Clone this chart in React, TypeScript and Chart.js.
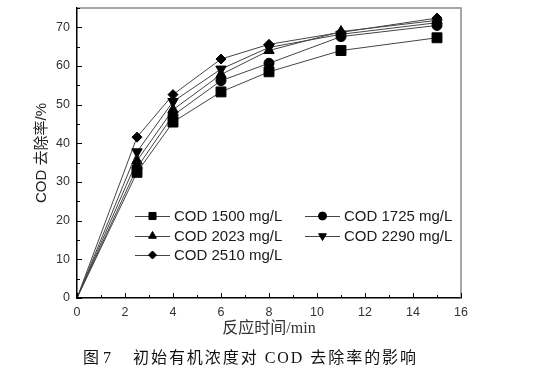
import React, { useEffect, useRef } from 'react';
import { Chart, registerables } from 'chart.js';
import { drawPoint } from 'chart.js/helpers';

Chart.register(...registerables);

const times = [0, 2.5, 4, 6, 8, 11, 15];
const seriesLabels = ['COD 1500 mg/L', 'COD 1725 mg/L', 'COD 2023 mg/L', 'COD 2290 mg/L', 'COD 2510 mg/L'];
const cod1500 = [0, 32.5, 45.5, 53.3, 58.5, 64.0, 67.3];
const cod1725 = [0, 33.7, 47.2, 56.2, 60.7, 67.6, 70.5];
const cod2023 = [0, 35.5, 48.7, 57.8, 64.0, 68.9, 71.8];
const cod2290 = [0, 37.8, 50.8, 59.2, 64.8, 68.2, 71.2];
const cod2510 = [0, 41.6, 52.6, 61.8, 65.6, 68.7, 72.4];
const seriesValues = [cod1500, cod1725, cod2023, cod2290, cod2510];
const pointStyles = ['rect', 'circle', 'triangle', 'triangle', 'rectRot'];
const pointRotations = [0, 0, 0, 180, 0];
const pointRadii = [7, 5, 6, 6, 5];
const legendRadii = [5, 4, 4.5, 4.5, 4];

const xTitle = '反应时间/min';
const yTitle = 'COD 去除率/%';
const captionNo = '图 7';
const captionText = '初始有机浓度对 COD 去除率的影响';

const SANS = "'Liberation Sans', Arial, 'Noto Sans CJK SC', sans-serif";
const SERIF = "'Liberation Serif', 'Times New Roman', 'Noto Sans CJK SC', serif";

const framePlugin = {
  id: 'frame',
  afterDraw(chart: any) {
    const ctx = chart.ctx;
    const ca = chart.chartArea;
    const xs = chart.scales.x;
    const ys = chart.scales.y;
    ctx.save();
    // top & right gray box
    ctx.strokeStyle = '#8a8a8a';
    ctx.lineWidth = 1.5;
    ctx.beginPath();
    ctx.moveTo(ca.left, ca.top);
    ctx.lineTo(ca.right, ca.top);
    ctx.lineTo(ca.right, ca.bottom);
    ctx.stroke();
    // inward ticks
    ctx.strokeStyle = '#000';
    ctx.lineWidth = 1;
    ctx.beginPath();
    for (let v = 0; v <= 75; v += 5) {
      const py = Math.round(ys.getPixelForValue(v)) + 0.5;
      const len = v % 10 === 0 ? 5 : 3;
      ctx.moveTo(ca.left, py);
      ctx.lineTo(ca.left + len, py);
    }
    for (let v = 0; v <= 16; v += 1) {
      const px = Math.round(xs.getPixelForValue(v)) + 0.5;
      const len = v % 2 === 0 ? 5 : 3;
      ctx.moveTo(px, ca.bottom);
      ctx.lineTo(px, ca.bottom - len);
    }
    ctx.stroke();

    // legend inside plot
    const order = [0, 1, 2, 3, 4];
    const cols = [ca.left + 58, ca.left + 228];
    const rows = [ca.top + 208, ca.top + 228, ca.top + 247];
    ctx.font = `15px ${SANS}`;
    ctx.textBaseline = 'middle';
    ctx.textAlign = 'left';
    order.forEach((di, i) => {
      const ds = chart.data.datasets[di];
      const x0 = cols[i % 2];
      const y0 = rows[Math.floor(i / 2)];
      ctx.strokeStyle = '#444';
      ctx.lineWidth = 1;
      ctx.beginPath();
      ctx.moveTo(x0, y0 + 0.5);
      ctx.lineTo(x0 + 35, y0 + 0.5);
      ctx.stroke();
      ctx.fillStyle = '#000';
      ctx.strokeStyle = '#000';
      drawPoint(ctx, { pointStyle: ds.pointStyle, radius: legendRadii[di], rotation: ds.pointRotation, borderWidth: 1 }, x0 + 17.5, y0);
      ctx.fillStyle = '#1a1a1a';
      ctx.fillText(ds.label, x0 + 39, y0 + 1);
    });

    // caption
    ctx.fillStyle = '#111';
    ctx.font = `16px ${SERIF}`;
    ctx.textBaseline = 'middle';
    const cy = 359;
    (ctx as any).letterSpacing = '0px';
    const w1 = ctx.measureText(captionNo).width;
    (ctx as any).letterSpacing = `${Math.max(0, (27 - w1) / captionNo.length)}px`;
    ctx.fillText(captionNo, 83, cy);
    (ctx as any).letterSpacing = '0px';
    const w2 = ctx.measureText(captionText).width;
    (ctx as any).letterSpacing = `${Math.max(0, (285 - w2) / captionText.length)}px`;
    ctx.fillText(captionText, 133, cy);
    (ctx as any).letterSpacing = '0px';
    ctx.restore();
  },
};

export default function App() {
  const ref = useRef<HTMLCanvasElement | null>(null);
  useEffect(() => {
    document.body.style.margin = '0';
    const canvas = ref.current;
    if (!canvas) return;
    const datasets = seriesValues.map((vals, i) => ({
      label: seriesLabels[i],
      data: times.map((t, j) => ({ x: t, y: vals[j] })),
      borderColor: '#444',
      borderWidth: 1,
      backgroundColor: '#000',
      pointBackgroundColor: '#000',
      pointBorderColor: '#000',
      pointBorderWidth: 1,
      pointStyle: pointStyles[i],
      pointRotation: pointRotations[i],
      pointRadius: times.map((t) => (t === 0 ? 0 : pointRadii[i])),
      tension: 0,
      fill: false,
    }));
    const chart = new Chart(canvas, {
      type: 'line',
      data: { datasets },
      plugins: [framePlugin],
      options: {
        responsive: false,
        animation: false,
        layout: { padding: { top: 5, right: 77, bottom: 35, left: 0 } },
        plugins: { legend: { display: false }, tooltip: { enabled: false }, title: { display: false } },
        scales: {
          x: {
            type: 'linear',
            min: 0,
            max: 16,
            grid: { display: false, drawTicks: false, tickLength: 0 },
            border: { display: true, color: '#000', width: 1.5 },
            ticks: { stepSize: 2, padding: 7, color: '#333', font: { family: SANS, size: 12.5 }, maxRotation: 0 },
            title: { display: true, text: xTitle, color: '#333', font: { family: SERIF, size: 16 }, padding: { top: 0, bottom: 0 } },
            afterFit(scale: any) {
              scale.height = 40;
              scale.paddingLeft = 0;
              scale.paddingRight = 0;
            },
          },
          y: {
            type: 'linear',
            min: 0,
            max: 75,
            grid: { display: false, drawTicks: false, tickLength: 0 },
            border: { display: true, color: '#000', width: 1.5 },
            ticks: { stepSize: 10, padding: 7, color: '#333', font: { family: SANS, size: 12.5 } },
            afterBuildTicks(scale: any) {
              scale.ticks = scale.ticks.filter((t: any) => t.value % 10 === 0);
            },
            title: { display: true, text: yTitle, color: '#222', font: { family: SANS, size: 15 }, padding: { top: 33, bottom: 0 } },
            afterFit(scale: any) {
              scale.width = 77;
              scale.paddingTop = 0;
              scale.paddingBottom = 0;
            },
          },
        },
      },
    } as any);
    return () => chart.destroy();
  }, []);
  return (
    <div style={{ width: 538, height: 373, background: '#fff' }}>
      <canvas ref={ref} width={538} height={373} style={{ width: 538, height: 373, display: 'block' }} />
    </div>
  );
}
